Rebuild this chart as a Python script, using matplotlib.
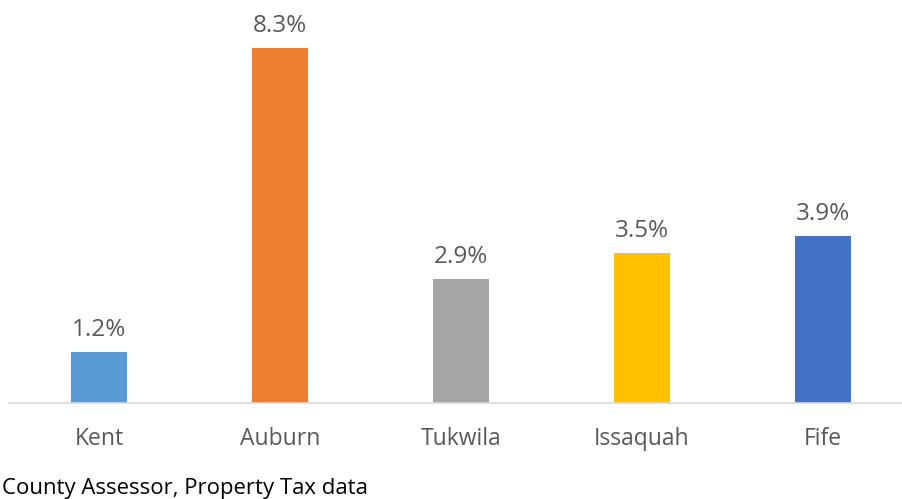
import matplotlib.pyplot as plt

cities = ['Kent', 'Auburn', 'Tukwila', 'Issaquah', 'Fife']
rates = [1.2, 8.3, 2.9, 3.5, 3.9]
labels = ['1.2%', '8.3%', '2.9%', '3.5%', '3.9%']
colors = ['#5B9BD5', '#ED7D31', '#A5A5A5', '#FFC000', '#4472C4']

plt.rcParams['font.family'] = ['Open Sans', 'DejaVu Sans']

fig = plt.figure(figsize=(9.02, 4.99), dpi=100)
# axes placed in pixel terms: baseline at y=403, category width ~181 px
ax = fig.add_axes([8.5 / 902, 96 / 499, 905 / 902, 385 / 499])
x = range(len(cities))
ax.bar(x, rates, width=0.31, color=colors)
for i, v in enumerate(rates):
    ax.text(i, v + 0.37, labels[i], ha='center', va='baseline', fontsize=17.5, color='#595959')

ax.set_xlim(-0.5, 4.5)
ax.set_ylim(0, 9)
ax.set_xticks(list(x))
ax.set_xticklabels(cities, fontsize=16.5, color='#595959')
ax.tick_params(axis='x', length=0, pad=17)
ax.set_yticks([])
for s in ['top', 'right', 'left']:
    ax.spines[s].set_visible(False)
ax.spines['bottom'].set_color('#D9D9D9')
ax.spines['bottom'].set_linewidth(1.2)

fig.text(2 / 902, 5 / 499, 'County Assessor, Property Tax data', fontsize=15.9, color='black', ha='left', va='baseline')
fig.savefig('out.png', dpi=100)
